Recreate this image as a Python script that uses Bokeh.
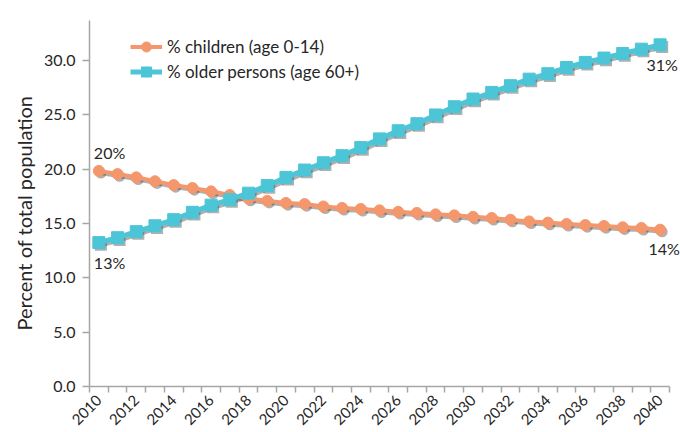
from math import pi
from bokeh.plotting import figure
from bokeh.models import FixedTicker, Range1d, Legend, LegendItem, NumeralTickFormatter, Label, Title
from bokeh.embed import file_html
from bokeh.resources import INLINE

years = list(range(2010, 2041))
children = [19.85, 19.56, 19.26, 18.9, 18.55, 18.28, 17.97, 17.63, 17.3, 17.1,
            16.9, 16.8, 16.58, 16.44, 16.35, 16.22, 16.08, 15.98, 15.85, 15.76,
            15.62, 15.52, 15.36, 15.2, 15.09, 14.97, 14.87, 14.78, 14.66, 14.6, 14.44]
older = [13.25, 13.7, 14.26, 14.8, 15.36, 16.04, 16.7, 17.2, 17.8, 18.5,
         19.25, 19.93, 20.6, 21.25, 22.0, 22.8, 23.55, 24.2, 25.0, 25.76,
         26.47, 27.08, 27.7, 28.3, 28.8, 29.37, 29.84, 30.24, 30.66, 31.06, 31.46]
label_years = list(range(2010, 2041, 2))
y_ticks = [0, 5, 10, 15, 20, 25, 30]
children_name = "% children (age 0-14)"
older_name = "% older persons (age 60+)"
y_title = "Percent of total population"

ORANGE = "#F5976C"
CYAN = "#4CC5D7"
SHADOW = "#3a3a3a"
AXIS = "#a6a6a6"
TEXT = "#262626"
FONT = "Lato"

x0, x1 = years[0] - 0.5, years[-1] + 0.5
x_end = x1 + 0.59   # room on the right for the end labels
p = figure(width=680, height=432, x_range=Range1d(x0, x_end), y_range=Range1d(0, 33.7),
           output_backend="svg", toolbar_location=None,
           min_border_left=89, min_border_right=0, min_border_top=20, min_border_bottom=46)
p.outline_line_color = None
p.grid.visible = False

# shadow ranges (shift by a couple of pixels)
p.extra_x_ranges = {"sx": Range1d(x0 - 0.11, x_end - 0.11)}
p.extra_y_ranges = {"sy": Range1d(0.2, 33.9)}

# x axis
xa = p.xaxis[0]
xa.bounds = (x0, x1)
xa.ticker = FixedTicker(ticks=label_years, minor_ticks=[y - 0.5 for y in years] + [x1])
xa.major_tick_line_color = None
xa.major_tick_out = 0
xa.major_tick_in = 0
xa.minor_tick_out = 6
xa.minor_tick_in = 0
xa.minor_tick_line_color = AXIS
xa.minor_tick_line_width = 1.5
xa.axis_line_color = AXIS
xa.axis_line_width = 1.5
xa.major_label_orientation = pi / 4
xa.major_label_standoff = 5
xa.major_label_text_font = FONT
xa.major_label_text_font_size = "15px"
xa.major_label_text_color = TEXT

# y axis
ya = p.yaxis[0]
ya.ticker = FixedTicker(ticks=y_ticks)
ya.formatter = NumeralTickFormatter(format="0.0")
ya.major_tick_out = 7
ya.major_tick_in = 0
ya.major_tick_line_color = AXIS
ya.major_tick_line_width = 1.5
ya.minor_tick_line_color = None
ya.axis_line_color = AXIS
ya.axis_line_width = 1.5
ya.major_label_standoff = 7
ya.major_label_text_font = FONT
ya.major_label_text_font_size = "16px"
ya.major_label_text_color = TEXT

# y title
p.add_layout(Title(text=y_title, align="left", offset=56, standoff=10,
                   text_font=FONT, text_font_size="20px", text_font_style="normal",
                   text_color=TEXT), "left")

# shadows
p.line(years, children, x_range_name="sx", y_range_name="sy", line_color=SHADOW, line_alpha=0.4, line_width=4)
p.scatter(years, children, x_range_name="sx", y_range_name="sy", marker="circle", size=11,
          fill_color=SHADOW, fill_alpha=0.4, line_color=None)
p.line(years, older, x_range_name="sx", y_range_name="sy", line_color=SHADOW, line_alpha=0.4, line_width=5)
p.scatter(years, older, x_range_name="sx", y_range_name="sy", marker="square", size=12,
          fill_color=SHADOW, fill_alpha=0.4, line_color=None)

# series
lc = p.line(years, children, line_color=ORANGE, line_width=4)
sc = p.scatter(years, children, marker="circle", size=11, fill_color=ORANGE, line_color=ORANGE)
lo = p.line(years, older, line_color=CYAN, line_width=5)
so = p.scatter(years, older, marker="square", size=12, fill_color=CYAN, line_color=CYAN)

legend = Legend(items=[LegendItem(label=children_name, renderers=[lc, sc]),
                       LegendItem(label=older_name, renderers=[lo, so])],
                location=(41, 302), glyph_width=32, glyph_height=25, spacing=0,
                padding=5, label_standoff=5, border_line_color=None,
                background_fill_alpha=0, label_text_font=FONT,
                label_text_font_size="17px", label_text_color=TEXT, margin=0)
p.add_layout(legend)

def lab(x, y, dx, dy, align):
    p.add_layout(Label(x=x, y=y, text=f"{round(y)}%", x_offset=dx, y_offset=-dy,
                       text_align=align, text_baseline="middle", text_font=FONT,
                       text_font_size="16px", text_color=TEXT))

lab(years[0], children[0], -5, -18, "left")
lab(years[0], older[0], -5, 20, "left")
lab(years[-1], older[-1], 2, 20, "center")
lab(years[-1], children[-1], 4, 19, "center")

open("out.html", "w").write(file_html(p, INLINE))
